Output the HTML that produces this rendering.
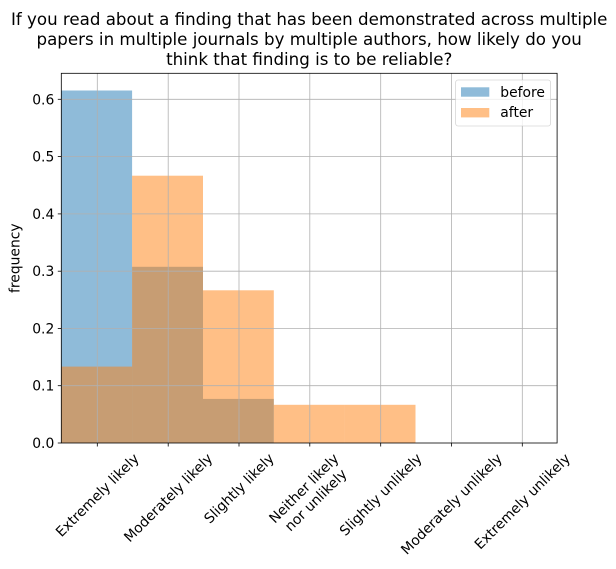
<!DOCTYPE html>
<html>
<head>
<meta charset="utf-8">
<style>
html,body{margin:0;padding:0;background:#fff;}
svg{display:block;}
text{font-family:"DejaVu Sans","Liberation Sans",sans-serif;fill:#000;}
</style>
</head>
<body>
<svg width="616" height="569" viewBox="0 0 616 569" xmlns="http://www.w3.org/2000/svg">
<rect x="0" y="0" width="616" height="569" fill="#fff"/>
<!-- title -->
<g font-size="16.67" text-anchor="middle">
<text x="309.2" y="25">If you read about a finding that has been demonstrated across multiple</text>
<text x="309.2" y="45">papers in multiple journals by multiple authors, how likely do you</text>
<text x="309.2" y="65">think that finding is to be reliable?</text>
</g>
<!-- bars before -->
<g fill="#1f77b4" fill-opacity="0.5">
<rect x="61.3" y="90.5" width="70.8" height="352.5"/>
<rect x="132.1" y="266.8" width="70.9" height="176.2"/>
<rect x="203.0" y="398.9" width="70.8" height="44.1"/>
</g>
<!-- bars after -->
<g fill="#ff7f0e" fill-opacity="0.5">
<rect x="61.3" y="366.6" width="70.8" height="76.4"/>
<rect x="132.1" y="175.7" width="70.9" height="267.3"/>
<rect x="203.0" y="290.3" width="70.8" height="152.7"/>
<rect x="273.8" y="404.8" width="70.8" height="38.2"/>
<rect x="344.6" y="404.8" width="70.9" height="38.2"/>
</g>
<!-- grid -->
<g stroke="#b0b0b0" stroke-width="0.8">
<line x1="97.3" y1="73.3" x2="97.3" y2="443"/>
<line x1="168.2" y1="73.3" x2="168.2" y2="443"/>
<line x1="239.0" y1="73.3" x2="239.0" y2="443"/>
<line x1="309.8" y1="73.3" x2="309.8" y2="443"/>
<line x1="380.7" y1="73.3" x2="380.7" y2="443"/>
<line x1="451.5" y1="73.3" x2="451.5" y2="443"/>
<line x1="522.3" y1="73.3" x2="522.3" y2="443"/>
<line x1="61.3" y1="385.7" x2="557.1" y2="385.7"/>
<line x1="61.3" y1="328.4" x2="557.1" y2="328.4"/>
<line x1="61.3" y1="271.2" x2="557.1" y2="271.2"/>
<line x1="61.3" y1="213.9" x2="557.1" y2="213.9"/>
<line x1="61.3" y1="156.6" x2="557.1" y2="156.6"/>
<line x1="61.3" y1="99.3" x2="557.1" y2="99.3"/>
</g>
<!-- spines -->
<rect x="61.3" y="73.3" width="495.8" height="369.7" fill="none" stroke="#000" stroke-width="0.8"/>
<!-- ticks -->
<g stroke="#000" stroke-width="0.8">
<line x1="97.3" y1="443" x2="97.3" y2="446.5"/>
<line x1="168.2" y1="443" x2="168.2" y2="446.5"/>
<line x1="239.0" y1="443" x2="239.0" y2="446.5"/>
<line x1="309.8" y1="443" x2="309.8" y2="446.5"/>
<line x1="380.7" y1="443" x2="380.7" y2="446.5"/>
<line x1="451.5" y1="443" x2="451.5" y2="446.5"/>
<line x1="522.3" y1="443" x2="522.3" y2="446.5"/>
<line x1="57.8" y1="443" x2="61.3" y2="443"/>
<line x1="57.8" y1="385.7" x2="61.3" y2="385.7"/>
<line x1="57.8" y1="328.4" x2="61.3" y2="328.4"/>
<line x1="57.8" y1="271.2" x2="61.3" y2="271.2"/>
<line x1="57.8" y1="213.9" x2="61.3" y2="213.9"/>
<line x1="57.8" y1="156.6" x2="61.3" y2="156.6"/>
<line x1="57.8" y1="99.3" x2="61.3" y2="99.3"/>
</g>
<!-- y tick labels -->
<g font-size="13.89" text-anchor="end">
<text x="54.3" y="448">0.0</text>
<text x="54.3" y="390.7">0.1</text>
<text x="54.3" y="333.4">0.2</text>
<text x="54.3" y="276.2">0.3</text>
<text x="54.3" y="218.9">0.4</text>
<text x="54.3" y="161.6">0.5</text>
<text x="54.3" y="104.3">0.6</text>
</g>
<!-- y label -->
<text font-size="13.89" text-anchor="middle" transform="translate(19.5,258.2) rotate(-90)">frequency</text>
<!-- x tick labels -->
<g font-size="13.89" text-anchor="middle">
<text transform="translate(97.3,495.2) rotate(-45)" y="4.7">Extremely likely</text>
<text transform="translate(168.2,497.7) rotate(-45)" y="4.7">Moderately likely</text>
<text transform="translate(239.0,488.4) rotate(-45)" y="4.7">Slightly likely</text>
<g transform="translate(309.8,494.2) rotate(-45)">
<text y="-3.6">Neither likely</text>
<text y="13.1">nor unlikely</text>
</g>
<text transform="translate(380.7,494.6) rotate(-45)" y="4.7">Slightly unlikely</text>
<text transform="translate(451.5,504.0) rotate(-45)" y="4.7">Moderately unlikely</text>
<text transform="translate(522.3,501.4) rotate(-45)" y="4.7">Extremely unlikely</text>
</g>
<!-- legend -->
<rect x="455.6" y="80" width="95" height="46" rx="2.5" ry="2.5" fill="#fff" fill-opacity="0.8" stroke="#cccccc" stroke-opacity="0.8" stroke-width="0.8"/>
<rect x="461" y="87.3" width="28.3" height="9.4" fill="#1f77b4" fill-opacity="0.5"/>
<rect x="461" y="108" width="28.3" height="9.4" fill="#ff7f0e" fill-opacity="0.5"/>
<g font-size="13.89">
<text x="500.3" y="96.8">before</text>
<text x="500.3" y="117.2">after</text>
</g>
</svg>
</body>
</html>
